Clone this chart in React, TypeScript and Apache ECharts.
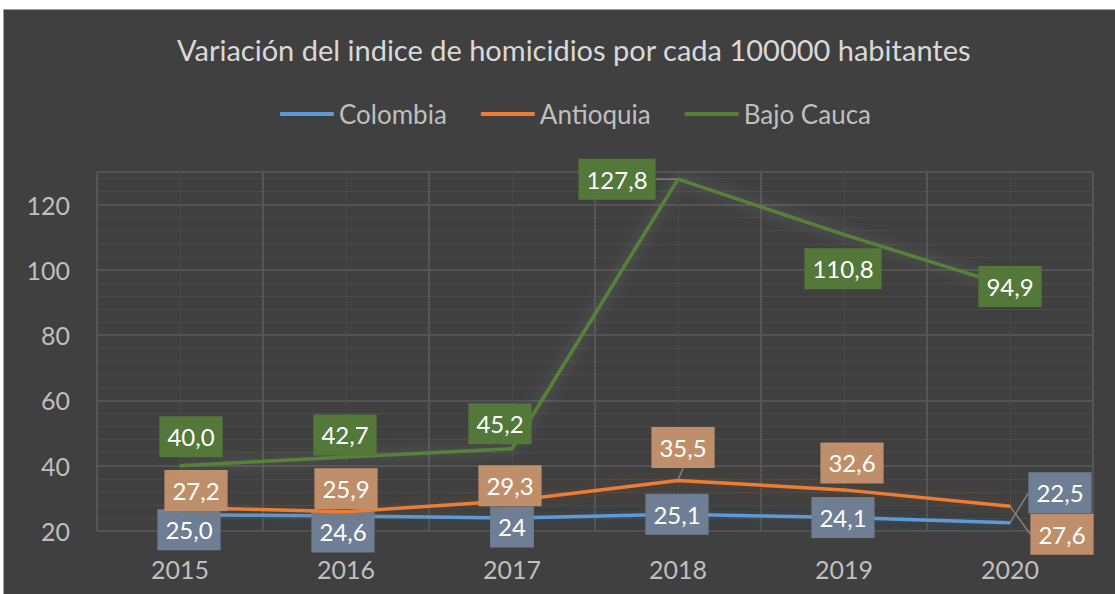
import React, { useEffect, useRef } from "react";
import * as echarts from "echarts";

const years = ["2015", "2016", "2017", "2018", "2019", "2020"];
const colombia = [25.0, 24.6, 24, 25.1, 24.1, 22.5];
const antioquia = [27.2, 25.9, 29.3, 35.5, 32.6, 27.6];
const bajoCauca = [40.0, 42.7, 45.2, 127.8, 110.8, 94.9];
const colombiaLabels = ["25,0", "24,6", "24", "25,1", "24,1", "22,5"];
const antioquiaLabels = ["27,2", "25,9", "29,3", "35,5", "32,6", "27,6"];
const bajoCaucaLabels = ["40,0", "42,7", "45,2", "127,8", "110,8", "94,9"];

// label displacement (style only)
const labelShift = [
  [[9, 15], [-3, 16], [0, 9], [-1, 0], [-1, 0], [50, -30]],
  [[16, -17], [0, -23], [-2, -15], [5, -33], [8, -27], [52, 28]],
  [[11, -29], [-1, -22], [-12, -25], [-61, 0], [-1, 34], [0, 0]],
];
const guideLines = [
  [false, false, false, false, false, true],
  [false, false, false, true, false, true],
  [false, false, false, true, false, false],
];

const FONT = "Lato";

export default function App() {
  const ref = useRef<HTMLDivElement>(null);
  useEffect(() => {
    if (!ref.current) return;
    const chart = echarts.init(ref.current, undefined, { renderer: "svg" });
    const mk = (
      name: string,
      values: number[],
      labels: string[],
      color: string,
      boxColor: string,
      shadow: string,
      si: number
    ) => ({
      name,
      type: "line",
      data: values.map((v, i) => ({
        value: v,
        labelLine: { show: guideLines[si][i] },
      })),
      symbol: "circle",
      symbolSize: 2,
      itemStyle: { color },
      lineStyle: { color, width: 3.5, shadowColor: shadow, shadowBlur: 14 },
      z: 3 + si,
      label: {
        show: true,
        position: "inside",
        formatter: (p: any) => labels[p.dataIndex],
        color: "#ffffff",
        fontFamily: FONT,
        fontSize: 24,
        lineHeight: 24,
        backgroundColor: boxColor,
        padding: [9, 8, 8, 8],
      },
      labelLine: {
        show: false,
        lineStyle: { color: "#808080", width: 1.5 },
      },
    });
    chart.setOption({
      animation: false,
      backgroundColor: "#404040",
      title: {
        text: "Variación del indice de homicidios por cada 100000 habitantes",
        left: 168,
        top: 20,
        textStyle: {
          color: "#d9d9d9",
          fontFamily: FONT,
          fontWeight: 400,
          fontSize: 29,
        },
      },
      legend: {
        top: 86,
        left: 271,
        itemWidth: 54,
        itemHeight: 4,
        itemGap: 34,
        icon: "roundRect",
        textStyle: { color: "#bfbfbf", fontFamily: FONT, fontSize: 26 },
        data: ["Colombia", "Antioquia", "Bajo Cauca"],
      },
      grid: { left: 93, right: 22, top: 162, bottom: 63 },
      xAxis: [
        {
          type: "category",
          data: years,
          boundaryGap: true,
          axisLine: { show: false },
          axisTick: { show: false },
          axisLabel: {
            color: "#bfbfbf",
            fontFamily: FONT,
            fontSize: 25,
            margin: 25,
          },
          splitLine: { show: true, lineStyle: { color: "#5a5a5a", width: 1.5 } },
          z: 2,
        },
        {
          type: "value",
          min: 0,
          max: 12,
          interval: 1,
          show: true,
          axisLine: { show: false },
          axisTick: { show: false },
          axisLabel: { show: false },
          splitLine: { show: true, lineStyle: { color: "#4a4a4a", width: 1 } },
          z: 1,
        },
      ],
      yAxis: {
        type: "value",
        min: 20,
        max: 130,
        interval: 20,
        axisLine: { show: false },
        axisTick: { show: false },
        axisLabel: {
          color: "#bfbfbf",
          fontFamily: FONT,
          fontSize: 25,
          margin: 27,
          showMaxLabel: false,
        },
        splitLine: { show: true, lineStyle: { color: "#5a5a5a", width: 1.5 } },
        minorTick: { show: false, splitNumber: 5 },
        minorSplitLine: { show: true, lineStyle: { color: "#4a4a4a", width: 1 } },
      },
      labelLayout: (p: any) => {
        const s = labelShift[p.seriesIndex][p.dataIndex];
        return { dx: s[0], dy: s[1] };
      },
      series: [
        mk("Colombia", colombia, colombiaLabels, "#5b9bd5", "#6e7f95", "rgba(40,70,110,0.6)", 0),
        mk("Antioquia", antioquia, antioquiaLabels, "#ed7d31", "#bf8f6b", "rgba(140,80,40,0.5)", 1),
        mk("Bajo Cauca", bajoCauca, bajoCaucaLabels, "#548235", "#53783a", "rgba(200,200,200,0.3)", 2),
      ],
    });
    return () => chart.dispose();
  }, []);
  return (
    <div
      style={{
        position: "fixed",
        left: 0,
        top: 0,
        width: 1115,
        height: 594,
        background: "#ffffff",
      }}
    >
      <div
        style={{
          position: "absolute",
          left: 3,
          top: 9,
          width: 1112,
          height: 585,
          borderTop: "1px solid #a0a0a0",
          borderLeft: "1px solid #a0a0a0",
          boxSizing: "border-box",
        }}
      >
        <div ref={ref} style={{ width: 1111, height: 584 }} />
      </div>
    </div>
  );
}
